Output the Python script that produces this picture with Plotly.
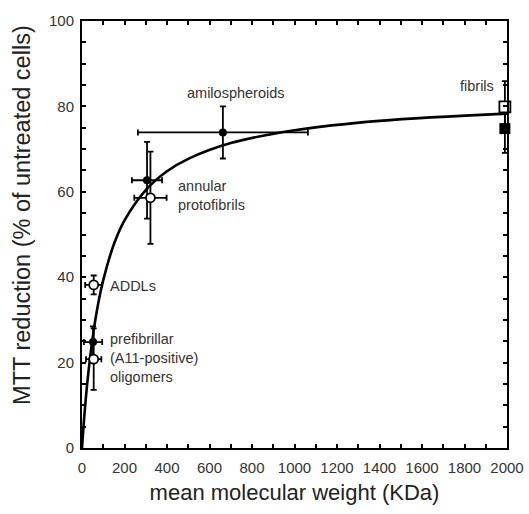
import plotly.graph_objects as go

# Fitted curve
curve_x = [0, 10, 25, 50, 75, 100, 150, 200, 300, 400, 500, 700, 1000, 1400, 2000]
curve_y = [0, 6.9, 15.3, 25.8, 33.5, 39.3, 47.7, 53.3, 60.4, 64.8, 67.7, 71.4, 74.4, 76.6, 78.3]

# Filled circles
filled_x = [52, 306, 663]
filled_y = [24.8, 62.7, 73.9]
filled_ex = [43, 71, 400]
filled_ey = [3.7, 9.0, 6.1]

# Open circles
open_x = [55, 55, 322]
open_y = [38.2, 20.8, 58.6]
open_ex = [40, 36, 76]
open_ey = [2.2, 7.2, 10.8]

# Fibrils squares
sq_open_x = [1990]
sq_open_y = [79.9]
sq_open_ey = [6.0]
sq_fill_x = [1990]
sq_fill_y = [74.8]
sq_fill_ey = [5.7]

# Labels
label_text = ["amilospheroids", "fibrils", "annular<br>protofibrils", "ADDLs",
              "prefibrillar<br>(A11-positive)<br>oligomers"]
label_x = [727, 1860, 440, 122, 122]
label_y = [83.2, 84.7, 59.2, 38.0, 21.0]
label_anchor = ["center", "center", "left", "left", "left"]

x_ticks = list(range(0, 2001, 100))
x_text = [str(v) if v % 200 == 0 else "" for v in x_ticks]
y_ticks = list(range(0, 101, 5))
y_text = [str(v) if v % 20 == 0 else "" for v in y_ticks]

FONT = "Liberation Sans, Arial"

fig = go.Figure()
fig.add_trace(go.Scatter(x=curve_x, y=curve_y, mode="lines",
                         line=dict(color="black", width=2.6, shape="spline", smoothing=1.0),
                         hoverinfo="skip", cliponaxis=False))
err = dict(color="black", thickness=1.8, width=3)
fig.add_trace(go.Scatter(x=filled_x, y=filled_y, mode="markers",
                         marker=dict(symbol="circle", size=8, color="black"),
                         error_x=dict(type="data", array=filled_ex, **err),
                         error_y=dict(type="data", array=filled_ey, **err),
                         cliponaxis=False))
fig.add_trace(go.Scatter(x=open_x, y=open_y, mode="markers",
                         marker=dict(symbol="circle", size=9, color="white",
                                     line=dict(color="black", width=1.8)),
                         error_x=dict(type="data", array=open_ex, **err),
                         error_y=dict(type="data", array=open_ey, **err),
                         cliponaxis=False))
fig.add_trace(go.Scatter(x=sq_fill_x, y=sq_fill_y, mode="markers",
                         marker=dict(symbol="square", size=11, color="black"),
                         error_y=dict(type="data", array=sq_fill_ey, **err),
                         cliponaxis=False))
fig.add_trace(go.Scatter(x=sq_open_x, y=sq_open_y, mode="markers",
                         marker=dict(symbol="square", size=11, color="white",
                                     line=dict(color="black", width=1.8)),
                         error_y=dict(type="data", array=sq_open_ey, **err),
                         cliponaxis=False))

for t, x, y, a in zip(label_text, label_x, label_y, label_anchor):
    fig.add_annotation(x=x, y=y, text=t, showarrow=False, xanchor=a, align="left",
                       font=dict(size=14.5, color="#333", family=FONT))

# y-axis title as an annotation (it sits slightly above the axis centre in the original)
fig.add_annotation(xref="paper", yref="paper", x=-0.141, y=0.546, textangle=-90,
                   text="MTT reduction (% of untreated cells)", showarrow=False,
                   xanchor="center", yanchor="middle",
                   font=dict(size=23.5, color="#222", family=FONT))

axis_common = dict(showline=True, linecolor="black", linewidth=2, mirror="allticks",
                   ticks="inside", ticklen=4, tickwidth=1.5, tickcolor="black",
                   showgrid=False, zeroline=False, automargin=False,
                   tickfont=dict(size=15, color="#333", family=FONT))
fig.update_xaxes(range=[0, 2000], tickmode="array", tickvals=x_ticks, ticktext=x_text,
                 ticklabelstandoff=5,
                 title=dict(text="mean molecular weight (KDa)", standoff=10,
                            font=dict(size=22, color="#222", family=FONT)),
                 **axis_common)
fig.update_yaxes(range=[0, 100], tickmode="array", tickvals=y_ticks, ticktext=y_text,
                 ticklabelstandoff=3,
                 **axis_common)
fig.update_layout(width=529, height=514, showlegend=False,
                  margin=dict(l=82, r=22, t=21, b=66),
                  plot_bgcolor="white", paper_bgcolor="white")
fig.write_html("out.html")
